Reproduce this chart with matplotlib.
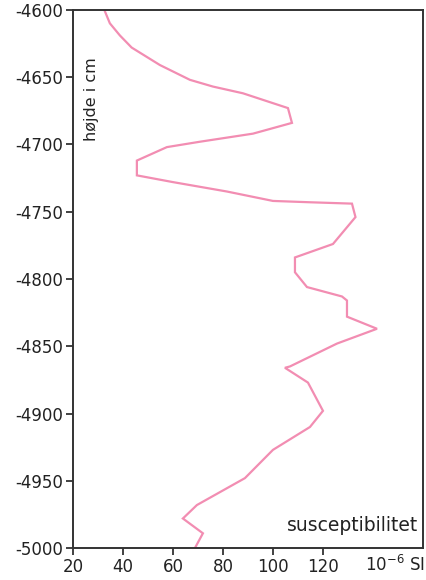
import matplotlib
matplotlib.use("Agg")
import matplotlib.pyplot as plt

plt.rcParams['font.family'] = ['DejaVu Sans']

susc = [32.8, 34.8, 38.8, 43.5, 54.8, 66.8, 76, 88, 106, 107.6, 92, 70.8, 57.6,
        45.6, 45.6, 60, 81.6, 100, 115, 131.6, 133, 124, 108.8, 108.8, 113.6,
        127.6, 129.6, 129.6, 141.6, 125.6, 106.8, 104.8, 114, 120, 114.8, 100,
        88.8, 69.6, 64, 72, 68.8]
height = [-4601, -4610, -4619, -4628, -4641, -4652, -4657, -4662, -4673, -4684,
          -4692, -4698, -4702, -4712, -4723, -4728, -4735, -4742, -4743, -4744,
          -4754, -4774, -4784, -4795, -4806, -4813, -4816, -4828, -4837, -4848,
          -4865, -4866, -4877, -4898, -4910, -4927, -4948, -4968, -4978, -4989,
          -5000]

xticks = [20, 40, 60, 80, 100, 120]
yticks = [-4600, -4650, -4700, -4750, -4800, -4850, -4900, -4950, -5000]

fig = plt.figure(figsize=(4.26, 5.80), dpi=100)
ax = fig.add_axes([0.171, 0.055, 0.822, 0.928])
ax.plot(susc, height, color='#f28db2', lw=1.6, solid_joinstyle='miter')
ax.set_xlim(20, 160)
ax.set_ylim(-5000, -4600)
ax.set_xticks(xticks)
ax.set_yticks(yticks)
ax.set_yticklabels([str(v) for v in yticks])
ax.tick_params(axis='both', direction='out', length=5, width=1.3, color='#333333',
               labelsize=12, labelcolor='#222222', pad=2)
for s in ax.spines.values():
    s.set_color('#333333')
    s.set_linewidth(1.4)

ax.text(0.052, 0.835, 'højde i cm', transform=ax.transAxes, rotation=90,
        fontsize=11.5, color='#222222', ha='center', va='center')
ax.text(0.985, 0.025, 'susceptibilitet', transform=ax.transAxes,
        fontsize=13.5, color='#222222', ha='right', va='bottom')
fig.text(0.998, 0.008, '10$^{-6}$ SI', fontsize=12, color='#222222',
         ha='right', va='bottom')

fig.savefig('out.png', dpi=100)
